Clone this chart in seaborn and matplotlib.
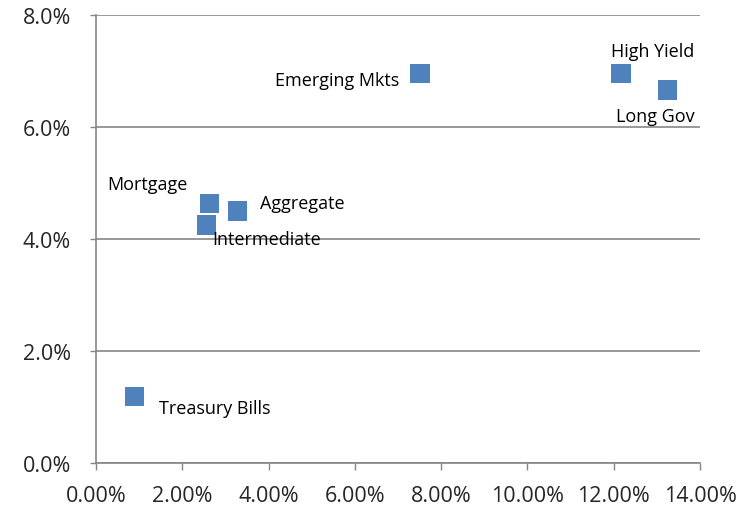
import matplotlib
matplotlib.use("Agg")
import matplotlib.pyplot as plt
import seaborn as sns
import pandas as pd
from matplotlib.ticker import FuncFormatter

names = ["Treasury Bills", "Intermediate", "Mortgage", "Aggregate", "Emerging Mkts", "High Yield", "Long Gov"]
risk = [0.90, 2.57, 2.64, 3.27, 7.51, 12.17, 13.24]
ret = [1.18, 4.25, 4.63, 4.50, 6.96, 6.95, 6.66]

# label offsets in pixels and alignment
offsets = {
    "Treasury Bills": (24, -11, "left"),
    "Intermediate": (5, -14, "left"),
    "Mortgage": (-22, 20, "right"),
    "Aggregate": (23, 8, "left"),
    "Emerging Mkts": (-21, -7, "right"),
    "High Yield": (-10, 23, "left"),
    "Long Gov": (-51, -26, "left"),
}

df = pd.DataFrame({"name": names, "risk": risk, "ret": ret})

sns.set_theme(style="white")
plt.rcParams["font.family"] = ["Open Sans", "DejaVu Sans"]

fig = plt.figure(figsize=(7.51, 5.10), dpi=100)
ax = fig.add_axes([96/751, 46/510, 604/751, 448/510])

sns.scatterplot(data=df, x="risk", y="ret", marker="s", s=190, color="#4F81BD",
                edgecolor="none", ax=ax, zorder=3, clip_on=False)

for n, x, y in zip(names, risk, ret):
    dx, dy, ha = offsets[n]
    ax.annotate(n, (x, y), xytext=(dx, dy), textcoords="offset pixels",
                ha=ha, va="center", fontsize=13, color="#000000")

ax.set_xlim(0, 14)
ax.set_ylim(0, 8)
ax.set_xticks(range(0, 15, 2))
ax.set_yticks([0, 2, 4, 6, 8])
ax.xaxis.set_major_formatter(FuncFormatter(lambda v, p: f"{v:.2f}%"))
ax.yaxis.set_major_formatter(FuncFormatter(lambda v, p: f"{v:.1f}%"))
ax.set_xlabel("")
ax.set_ylabel("")

ax.yaxis.grid(True, color="#868686", linewidth=1.2)
ax.xaxis.grid(False)
ax.set_axisbelow(True)
for s in ["top", "right"]:
    ax.spines[s].set_visible(False)
for s in ["left", "bottom"]:
    ax.spines[s].set_color("#868686")
    ax.spines[s].set_linewidth(1.2)

ax.tick_params(axis="x", which="major", direction="out", length=5, width=1, color="#868686",
               labelsize=15.5, pad=11, bottom=True)
ax.tick_params(axis="y", which="major", direction="out", length=4, width=1, color="#868686",
               labelsize=15.5, pad=14, left=True)

fig.savefig("out.png", dpi=100)
